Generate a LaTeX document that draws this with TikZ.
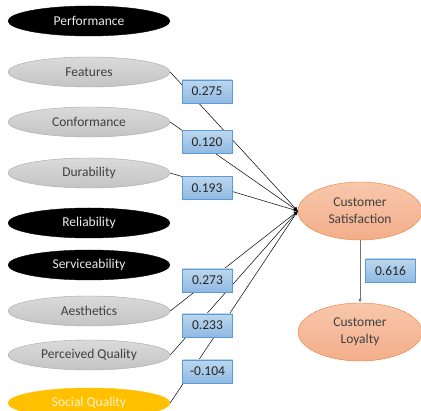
\documentclass[tikz,border=0pt]{standalone}
\usepackage{fontspec}
\setmainfont{Carlito}
\usetikzlibrary{shapes.geometric,arrows.meta}
\definecolor{txtgray}{HTML}{404040}
\definecolor{ellgraytop}{HTML}{DADADA}
\definecolor{ellgraybot}{HTML}{C4C4C4}
\definecolor{ellgrayedge}{HTML}{A6A6A6}
\definecolor{gold}{HTML}{FFC000}
\definecolor{goldtxt}{HTML}{FFF2CC}
\definecolor{salmontop}{HTML}{F8C7AB}
\definecolor{salmonbot}{HTML}{F3AE8B}
\definecolor{orangeedge}{HTML}{ED7D31}
\definecolor{boxtop}{HTML}{BDD7EE}
\definecolor{boxbot}{HTML}{8FB9E2}
\definecolor{boxedge}{HTML}{5B9BD5}
\begin{document}
\begin{tikzpicture}[x=1pt,y=-1pt,
    factor/.style={ellipse, minimum width=162pt, minimum height=30pt, inner sep=0pt,
      font=\fontsize{13.5}{17}\selectfont},
    dropped/.style={factor, fill=black, draw=black, text=white!92!black},
    kept/.style={factor, top color=ellgraytop, bottom color=ellgraybot, draw=ellgrayedge, text=txtgray},
    added/.style={factor, fill=gold, draw=gold, text=goldtxt},
    outcome/.style={ellipse, minimum width=124pt, minimum height=58pt, inner sep=0pt, align=center,
      top color=salmontop, bottom color=salmonbot, draw=orangeedge, text=txtgray,
      font=\fontsize{13.5}{17}\selectfont},
    coef/.style={rectangle, minimum width=50pt, minimum height=23pt, inner sep=0pt,
      top color=boxtop, bottom color=boxbot, draw=boxedge, text=black!85,
      font=\fontsize{13.5}{16}\selectfont},
    link/.style={-{Latex[length=4pt,width=3.5pt]}, line width=0.5pt, black}]
    \useasboundingbox (0,0) rectangle (421,411);

    % Quality dimensions
    \foreach \name/\txt/\y/\kind in {perf/Performance/21/dropped, feat/Features/72/kept,
        conf/Conformance/122/kept, dura/Durability/173/kept, reli/Reliability/223/dropped,
        serv/Serviceability/265/dropped, aest/Aesthetics/311/kept,
        perc/Perceived Quality/355/kept, soci/Social Quality/403/added} {
      \node[\kind] (\name) at (89,\y) {\txt};
    }

    % Outcomes
    \node[outcome] (sat) at (360,211) {Customer\\Satisfaction};
    \node[outcome] (loy) at (360,332) {Customer\\Loyalty};

    % Paths
    \foreach \name in {feat,conf,dura,aest,perc,soci} {
      \draw[link] (\name.east) -- (sat.west);
    }
    \draw[-{Latex[length=4pt,width=3.5pt]}, line width=0.8pt, black!55] (sat.south) -- (loy.north);

    % Path coefficients
    \node[coef] (c1) at (207,91.5) {0.275};
    \node[coef] (c2) at (207,142) {0.120};
    \node[coef] (c3) at (207,188) {0.193};
    \node[coef] (c4) at (207.5,280.5) {0.273};
    \node[coef] (c5) at (207.5,325.5) {0.233};
    \node[coef] (c6) at (207.5,371.5) {-0.104};
    \node[coef] (c7) at (390.5,270.5) {0.616};
\end{tikzpicture}
\end{document}
